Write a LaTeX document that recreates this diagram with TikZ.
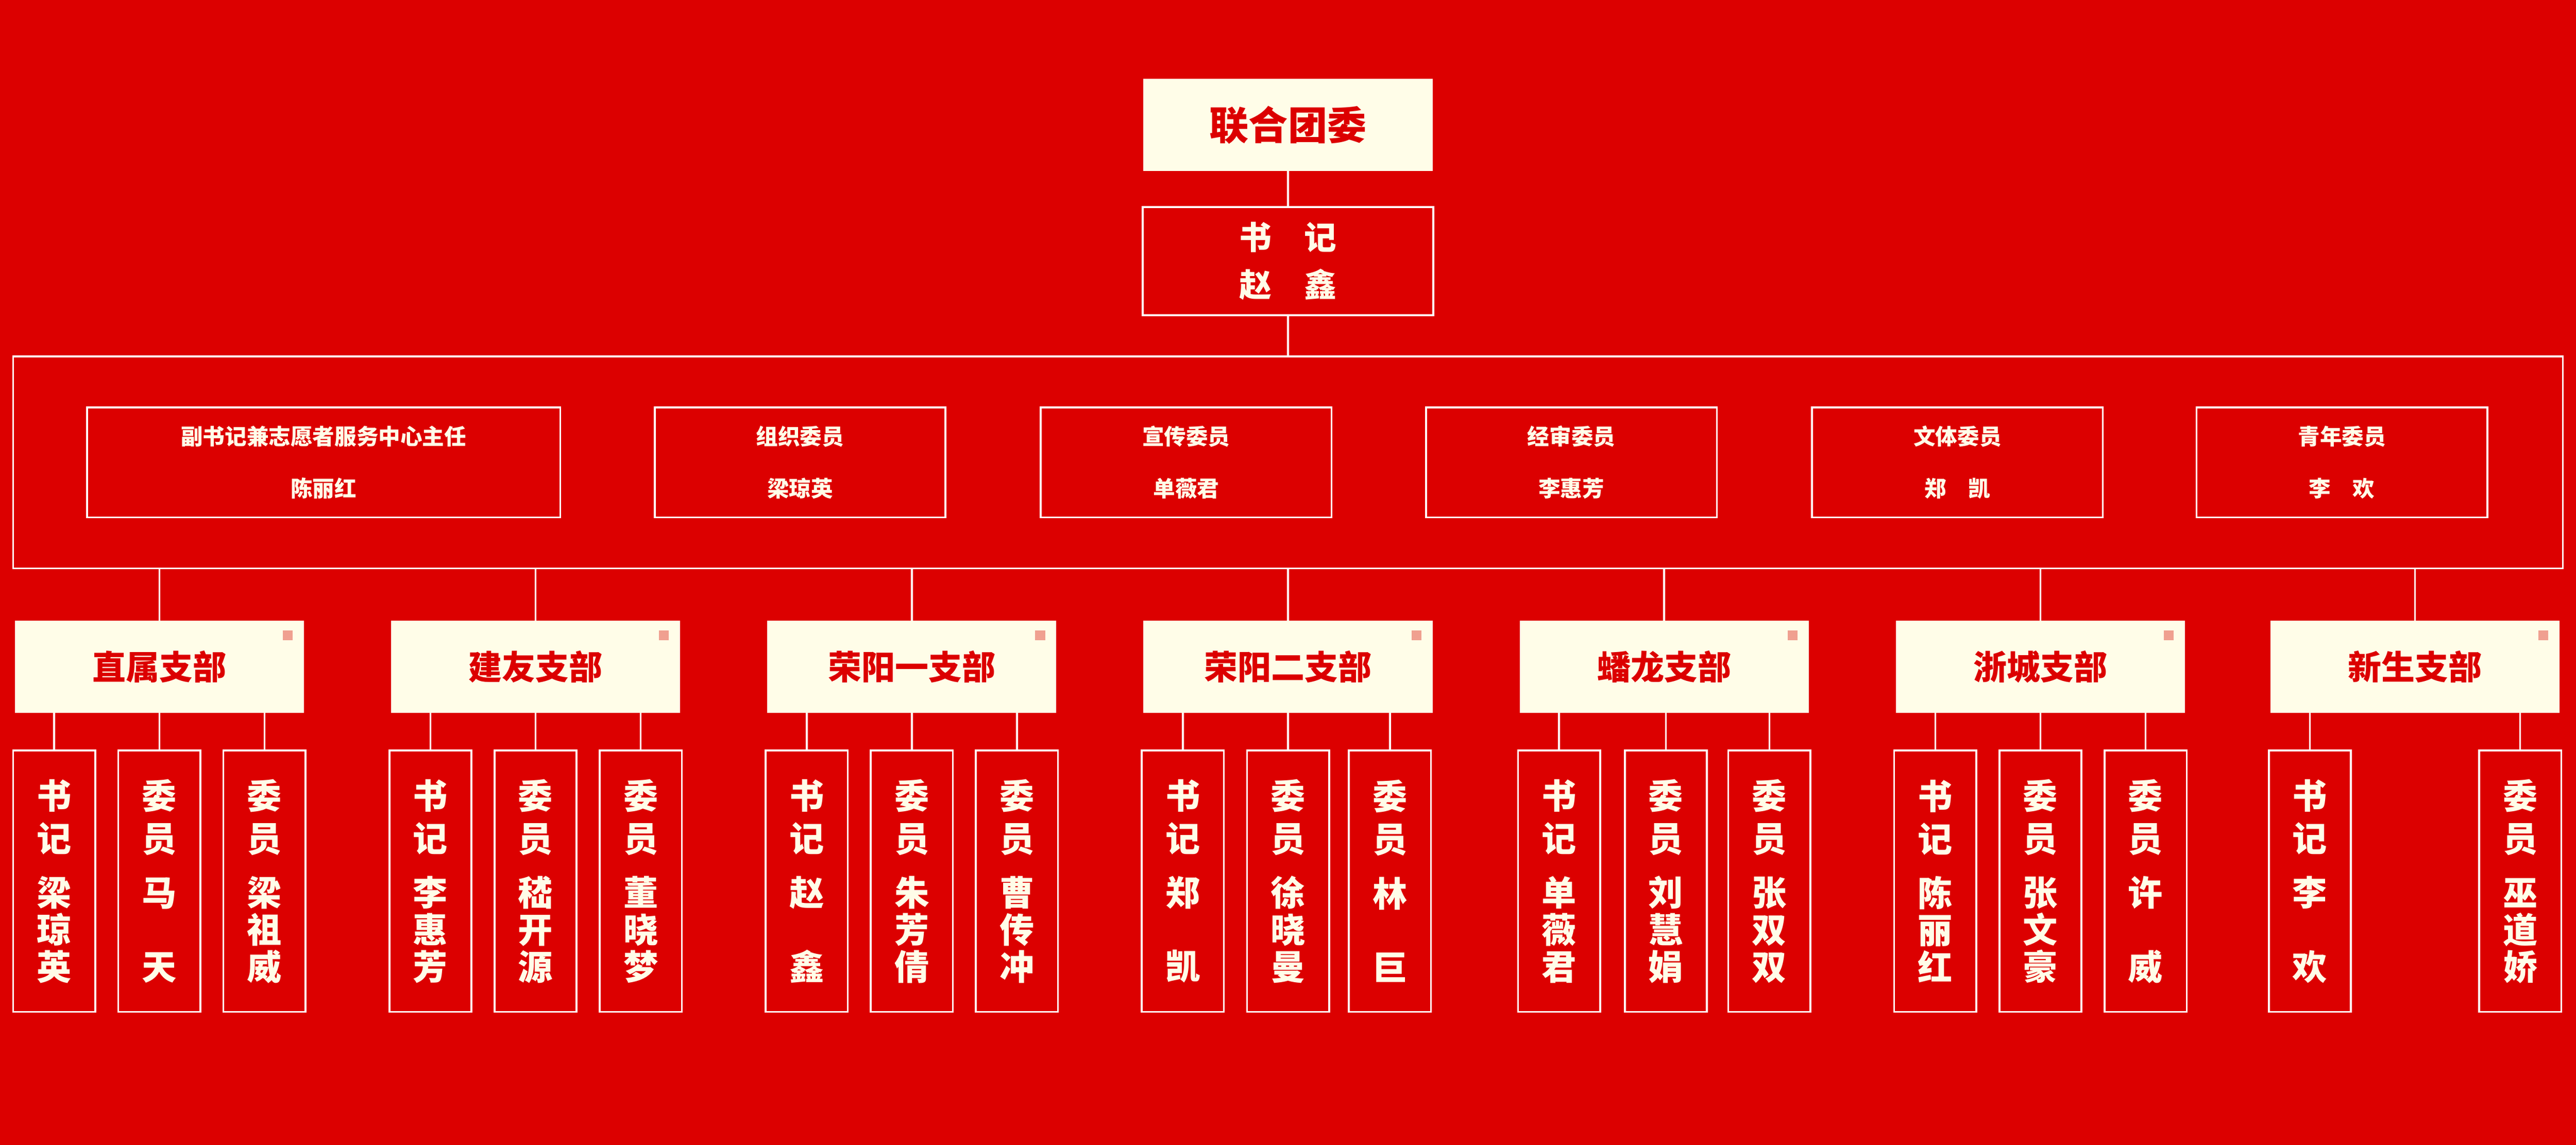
\documentclass[tikz,border=0pt]{standalone}
\usepackage{fontspec}
\newfontfamily\cjk{Noto Sans CJK SC}
\usetikzlibrary{positioning,calc}
\definecolor{bgred}{HTML}{DC0000}
\definecolor{cream}{HTML}{FFFDE8}
\definecolor{pinkmark}{HTML}{F0A090}
\tikzset{
	capbox/.style={fill=cream,text=bgred,font=\cjk\bfseries\fontsize{34}{40}\selectfont,
		minimum width=88mm,minimum height=28mm,inner sep=0pt},
	linebox/.style={draw=white,line width=1.6pt,text=cream,align=center,inner sep=0pt},
	branchbox/.style={capbox,font=\cjk\bfseries\fontsize{29}{34}\selectfont},
	memberbox/.style={linebox,minimum width=25mm,minimum height=79.5mm,
		font=\cjk\bfseries\fontsize{30}{37}\selectfont},
	link/.style={draw=white,line width=1.6pt},
}
\begin{document}
\begin{tikzpicture}[x=0.5mm,y=-0.5mm]
\fill[bgred] (0,0) rectangle (1568,697);
\useasboundingbox (0,0) rectangle (1568,697);

% top of the tree
\node[capbox] (top) at (784,76) {联合团委};
\node[linebox,minimum width=88.5mm,minimum height=33mm,
	font=\cjk\bfseries\fontsize{28}{41}\selectfont] (sec) at (784,159) {书\quad 记\\赵\quad 鑫};
\draw[link] (top) -- (sec);
\node[linebox,minimum width=776mm,minimum height=64.5mm] (frame) at (784,281.5) {};
\draw[link] (sec) -- (frame);

% committee members
\foreach \cx/\bw/\txt [count=\k] in {197/144/{副书记兼志愿者服务中心主任\\陈丽红},
	487/88.5/{组织委员\\梁琼英},722/88.5/{宣传委员\\单薇君},956.5/88.5/{经审委员\\李惠芳},
	1191.5/88.5/{文体委员\\郑\quad 凯},1425.5/88.5/{青年委员\\李\quad 欢}}
	\node[linebox,minimum width=\bw mm,minimum height=33.5mm,
		font=\cjk\bfseries\fontsize{19}{45}\selectfont] (c\k) at (\cx,281.5) {\txt};

% branches and their members
\foreach \cx/\bn/\mlist [count=\i] in {
	97/直属支部/{-64/{书\\记\\[10pt]梁\\[-5pt]琼\\[-5pt]英},0/{委\\员\\[10pt]马\\[-5pt]\mbox{}\\[-5pt]天},64/{委\\员\\[10pt]梁\\[-5pt]祖\\[-5pt]威}},
	326/建友支部/{-64/{书\\记\\[10pt]李\\[-5pt]惠\\[-5pt]芳},0/{委\\员\\[10pt]嵇\\[-5pt]开\\[-5pt]源},64/{委\\员\\[10pt]董\\[-5pt]晓\\[-5pt]梦}},
	555/荣阳一支部/{-64/{书\\记\\[10pt]赵\\[-5pt]\mbox{}\\[-5pt]鑫},0/{委\\员\\[10pt]朱\\[-5pt]芳\\[-5pt]倩},64/{委\\员\\[10pt]曹\\[-5pt]传\\[-5pt]冲}},
	784/荣阳二支部/{-64/{书\\记\\[10pt]郑\\[-5pt]\mbox{}\\[-5pt]凯},0/{委\\员\\[10pt]徐\\[-5pt]晓\\[-5pt]曼},62/{委\\员\\[10pt]林\\[-5pt]\mbox{}\\[-5pt]巨}},
	1013/蟠龙支部/{-64/{书\\记\\[10pt]单\\[-5pt]薇\\[-5pt]君},1/{委\\员\\[10pt]刘\\[-5pt]慧\\[-5pt]娟},64/{委\\员\\[10pt]张\\[-5pt]双\\[-5pt]双}},
	1242/浙城支部/{-64/{书\\记\\[10pt]陈\\[-5pt]丽\\[-5pt]红},0/{委\\员\\[10pt]张\\[-5pt]文\\[-5pt]豪},64/{委\\员\\[10pt]许\\[-5pt]\mbox{}\\[-5pt]威}},
	1470/新生支部/{-64/{书\\记\\[10pt]李\\[-5pt]\mbox{}\\[-5pt]欢},64/{委\\员\\[10pt]巫\\[-5pt]道\\[-5pt]娇}}}{
	\node[branchbox] (b\i) at (\cx,406) {\bn};
	\fill[pinkmark] ([xshift=-6.5mm,yshift=-3mm]b\i.north east) rectangle ++(6,6);
	\draw[link] (frame.south -| b\i) -- (b\i.north);
	\foreach \dx/\who [count=\j] in \mlist{
		\node[memberbox] (m\i\j) at (\cx+\dx,536.5) {\who};
		\draw[link] (b\i.south -| m\i\j) -- (m\i\j.north);
	}
}
\end{tikzpicture}
\end{document}
